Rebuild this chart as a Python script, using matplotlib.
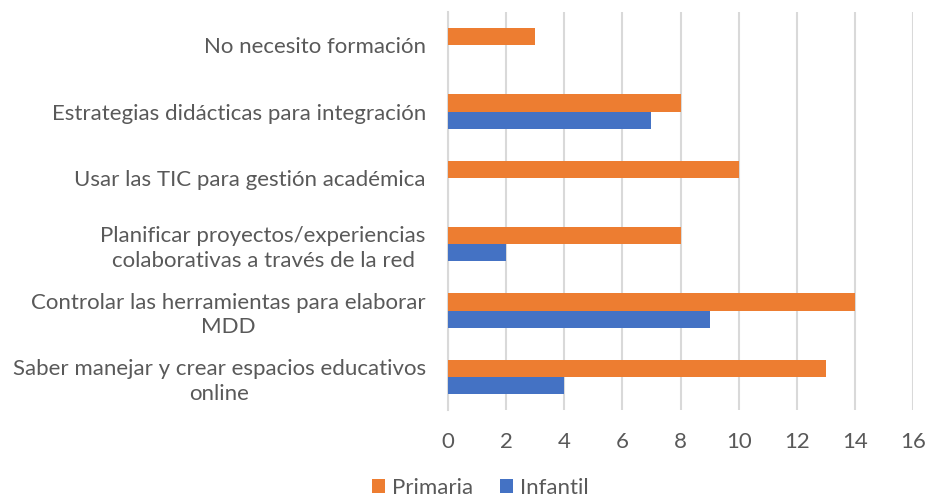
import matplotlib
matplotlib.use("Agg")
import matplotlib.pyplot as plt
import numpy as np

categories = [
    "No necesito formación",
    "Estrategias didácticas para integración",
    "Usar las TIC para gestión académica",
    "Planificar proyectos/experiencias\ncolaborativas a través de la red",
    "Controlar las herramientas para elaborar\nMDD",
    "Saber manejar y crear espacios educativos\nonline",
]
primaria = [3, 8, 10, 8, 14, 13]
infantil = [0, 7, 0, 2, 9, 4]
xticks = [0, 2, 4, 6, 8, 10, 12, 14, 16]

plt.rcParams['font.family'] = ['Lato', 'DejaVu Sans']
txt = '#595959'
fs = 16

fig = plt.figure(figsize=(9.28, 4.99), dpi=100)
ax = fig.add_axes([448/928, 1-410/499, (913-448)/928, (410-12)/499])

y = np.arange(len(categories))
h = 0.26
ax.barh(y - h/2, primaria, height=h, color='#ED7D31', label='Primaria', zorder=3)
ax.barh(y + h/2, infantil, height=h, color='#4472C4', label='Infantil', zorder=3)

ax.set_ylim(len(categories) - 0.5, -0.5)
ax.set_xlim(0, 16)
ax.set_xticks(xticks)
ax.set_xticklabels([str(v) for v in xticks])
ax.set_yticks(y)
ax.set_yticklabels(categories)
for lbl in ax.get_yticklabels():
    lbl.set_multialignment('center')
    lbl.set_linespacing(1.3)
ax.grid(axis='x', color='#D9D9D9', linewidth=1.5, zorder=0)
for s in ['top', 'right', 'bottom']:
    ax.spines[s].set_visible(False)
ax.spines['left'].set_color('#D9D9D9')
ax.spines['left'].set_linewidth(1.5)
ax.tick_params(axis='y', length=0, pad=16, labelsize=fs, labelcolor=txt)
ax.tick_params(axis='x', length=0, pad=16, labelsize=fs, labelcolor=txt)

fig.legend(loc='center', bbox_to_anchor=(480/928, 1-488/499), ncol=2, frameon=False,
           fontsize=fs, labelcolor=txt, handlelength=0.6, handleheight=0.6,
           handletextpad=0.3, columnspacing=1.2, borderpad=0)

fig.savefig('out.png', dpi=100)
